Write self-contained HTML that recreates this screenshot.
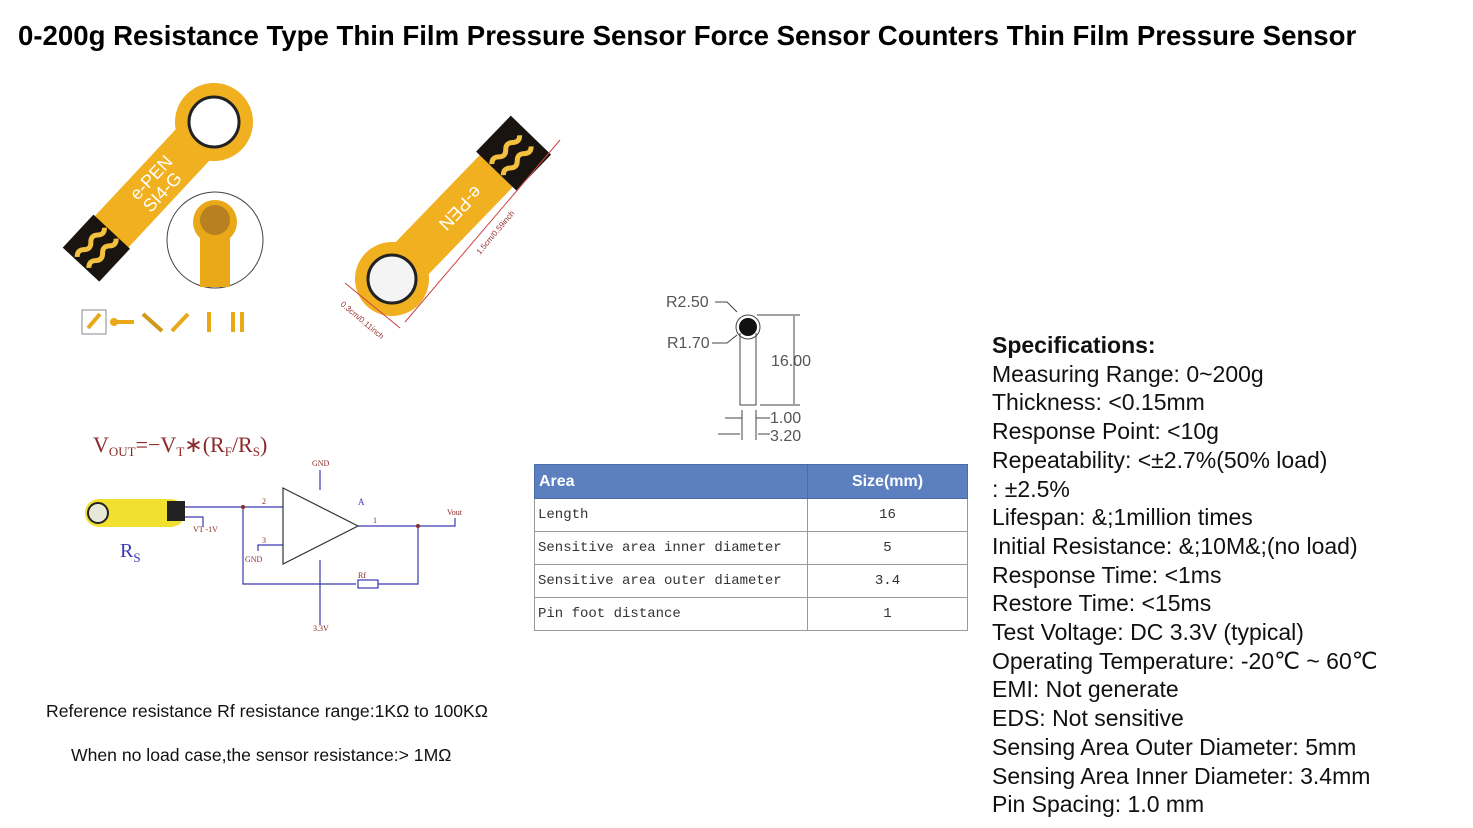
<!DOCTYPE html>
<html><head><meta charset="utf-8"><style>
body{margin:0;width:1473px;height:828px;background:#fff;position:relative;overflow:hidden;font-family:"Liberation Sans",sans-serif}
.abs{position:absolute}
h1{position:absolute;left:18px;top:20px;margin:0;font-size:27.6px;font-weight:bold;color:#000;white-space:nowrap}
.spec{position:absolute;left:992px;top:331px;font-size:23px;line-height:28.7px;color:#111;white-space:nowrap}
table{position:absolute;left:534px;top:464px;border-collapse:collapse;width:434px}
td{border:1px solid #999;height:32px;font-family:"Liberation Mono",monospace;font-size:14px;color:#333;padding:0 3px}
th{background:#5b7fbf;color:#fff;font-size:16px;height:33px;text-align:left;padding:0 4px;border:1px solid #4a6aa8}
.c{text-align:center}
.note{position:absolute;font-size:17.6px;color:#111;white-space:nowrap}
</style></head><body>
<h1>0-200g Resistance Type Thin Film Pressure Sensor Force Sensor Counters Thin Film Pressure Sensor</h1>

<svg class="abs" style="left:0;top:0" width="1473" height="828">
<g transform="translate(214,122) rotate(-47)">
<rect x="-175" y="-23" width="175" height="46" fill="#f0b020"/>
<rect x="-195" y="-25" width="45" height="50" fill="#1a1410"/>
<path d="M-192 -8 q5 -5 10 0 t10 0 t10 0 t10 0" stroke="#f3c040" stroke-width="5" fill="none"/>
<path d="M-192 8 q5 -5 10 0 t10 0 t10 0 t10 0" stroke="#f3c040" stroke-width="5" fill="none"/>
<circle r="39" fill="#f0b020"/>
<circle r="25" fill="#fff" stroke="#222" stroke-width="3"/>
<text x="-110" y="-2" fill="#fff" font-size="18" font-family="Liberation Sans">e-PEN</text>
<text x="-110" y="16" fill="#fff" font-size="18" font-family="Liberation Sans">SI4-G</text>
</g>
<circle cx="215" cy="240" r="48" fill="#fff" stroke="#444" stroke-width="1"/>
<rect x="200" y="225" width="30" height="62" fill="#e8a818"/>
<circle cx="215" cy="222" r="22" fill="#e8a818"/>
<circle cx="215" cy="220" r="15" fill="#b88020"/>
<rect x="82" y="310" width="24" height="24" fill="#fff" stroke="#888"/>
<line x1="88" y1="328" x2="100" y2="314" stroke="#e8a818" stroke-width="4"/>
<line x1="112" y1="322" x2="134" y2="322" stroke="#e8a818" stroke-width="4"/><circle cx="114" cy="322" r="4" fill="#e8a818"/>
<line x1="143" y1="314" x2="162" y2="331" stroke="#d09818" stroke-width="4"/>
<line x1="172" y1="331" x2="188" y2="314" stroke="#e8a818" stroke-width="4"/>
<line x1="209" y1="312" x2="209" y2="332" stroke="#e8a818" stroke-width="4"/>
<line x1="233" y1="312" x2="233" y2="332" stroke="#e8a818" stroke-width="4"/><line x1="242" y1="312" x2="242" y2="332" stroke="#e8a818" stroke-width="4"/>
<g transform="translate(392,279) rotate(-46)">
<rect x="0" y="-23" width="185" height="46" fill="#f0b020"/>
<rect x="150" y="-28" width="50" height="56" fill="#1a1410"/>
<path d="M152 -8 q5 -5 10 0 t10 0 t10 0 t10 0" stroke="#f3c040" stroke-width="5" fill="none"/>
<path d="M152 8 q5 -5 10 0 t10 0 t10 0 t10 0" stroke="#f3c040" stroke-width="5" fill="none"/>
<circle r="37" fill="#f0b020"/>
<circle r="24" fill="#f4f4f4" stroke="#222" stroke-width="3"/>
<text x="55" y="16" fill="#fff" font-size="18" transform="rotate(180 90 5)">e-PEN</text>
</g>
<line x1="345" y1="283" x2="400" y2="328" stroke="#c44" stroke-width="1"/>
<line x1="405" y1="322" x2="560" y2="140" stroke="#c44" stroke-width="1"/>
<text x="340" y="305" font-size="8" fill="#933" transform="rotate(40 340 305)">0.3cm/0.11inch</text>
<text x="480" y="255" font-size="8" fill="#933" transform="rotate(-50 480 255)">1.5cm/0.59inch</text>

<g font-family="Liberation Sans" font-size="16" fill="#555">
<text x="666" y="307">R2.50</text><text x="667" y="348">R1.70</text>
<text x="771" y="366">16.00</text><text x="770" y="423">1.00</text><text x="770" y="441">3.20</text>
</g>
<g stroke="#444" fill="none" stroke-width="1">
<path d="M715 302 h12 l10 10"/><path d="M712 343 h15 l10 -8"/>
<path d="M740 333 v72 h16 v-72"/>
<circle cx="748" cy="327" r="12"/>
<line x1="757" y1="315" x2="800" y2="315"/><line x1="760" y1="405" x2="800" y2="405"/>
<line x1="794" y1="316" x2="794" y2="404"/>
<line x1="742" y1="410" x2="742" y2="440"/><line x1="756" y1="410" x2="756" y2="440"/>
<line x1="725" y1="418" x2="742" y2="418"/><line x1="756" y1="418" x2="770" y2="418"/>
<line x1="718" y1="434" x2="740" y2="434"/><line x1="758" y1="434" x2="770" y2="434"/>
</g>
<circle cx="748" cy="327" r="9" fill="#111"/>

<text x="93" y="452" font-family="Liberation Serif" font-size="22" fill="#8b2a2a">V<tspan font-size="13" dy="4">OUT</tspan><tspan dy="-4">=−V</tspan><tspan font-size="13" dy="4">T</tspan><tspan dy="-4">∗(R</tspan><tspan font-size="13" dy="4">F</tspan><tspan dy="-4">/R</tspan><tspan font-size="13" dy="4">S</tspan><tspan dy="-4">)</tspan></text>
<rect x="85" y="499" width="100" height="28" rx="14" fill="#f2e030"/>
<circle cx="98" cy="513" r="13" fill="#f2e030"/>
<circle cx="98" cy="513" r="10" fill="#e8e8d8" stroke="#222" stroke-width="2"/>
<rect x="167" y="501" width="18" height="20" fill="#222"/>
<text x="120" y="557" font-family="Liberation Serif" font-size="20" fill="#3a3ab0">R<tspan font-size="13" dy="5">S</tspan></text>
<g stroke="#3a3ab0" fill="none" stroke-width="1.2">
<path d="M185 507 H283"/><path d="M185 517 h18 v10"/>
<path d="M243 507 V584 H356"/><path d="M378 584 H418 V526"/>
<path d="M358 526 H455 v-8"/>
<path d="M320 560 V625"/><path d="M320 490 V470"/>
<path d="M283 545 h-25 v6"/>
<rect x="358" y="580" width="20" height="8"/>
</g>
<path d="M283 488 L358 526 L283 564 Z" fill="#fff" stroke="#333" stroke-width="1.2"/>
<circle cx="243" cy="507" r="2" fill="#8b2a2a"/><circle cx="418" cy="526" r="2" fill="#8b2a2a"/>
<g font-family="Liberation Serif" font-size="8" fill="#8b2a2a">
<text x="312" y="466">GND</text><text x="245" y="562">GND</text><text x="313" y="631">3.3V</text>
<text x="447" y="515">Vout</text><text x="193" y="532">VT -1V</text><text x="358" y="578">Rf</text>
<text x="262" y="504">2</text><text x="262" y="543">3</text><text x="373" y="523">1</text>
</g>
<text x="358" y="505" font-size="9" fill="#3a3ab0" font-family="Liberation Serif">A</text>
</svg>

<table>
<tr><th style="width:264px">Area</th><th style="text-align:center">Size(mm)</th></tr>
<tr><td>Length</td><td class="c">16</td></tr>
<tr><td>Sensitive area inner diameter</td><td class="c">5</td></tr>
<tr><td>Sensitive area outer diameter</td><td class="c">3.4</td></tr>
<tr><td>Pin foot distance</td><td class="c">1</td></tr>
</table>

<div class="note" style="left:46px;top:701px">Reference resistance Rf resistance range:1KΩ to 100KΩ</div>
<div class="note" style="left:71px;top:745px">When no load case,the sensor resistance:&gt; 1MΩ</div>

<div class="spec"><b>Specifications:</b><br>Measuring Range: 0~200g<br>Thickness: &lt;0.15mm<br>Response Point: &lt;10g<br>Repeatability: &lt;±2.7%(50% load)<br>: ±2.5%<br>Lifespan: &amp;;1million times<br>Initial Resistance: &amp;;10M&amp;;(no load)<br>Response Time: &lt;1ms<br>Restore Time: &lt;15ms<br>Test Voltage: DC 3.3V (typical)<br>Operating Temperature: -20℃ ~ 60℃<br>EMI: Not generate<br>EDS: Not sensitive<br>Sensing Area Outer Diameter: 5mm<br>Sensing Area Inner Diameter: 3.4mm<br>Pin Spacing: 1.0 mm</div>
</body></html>
